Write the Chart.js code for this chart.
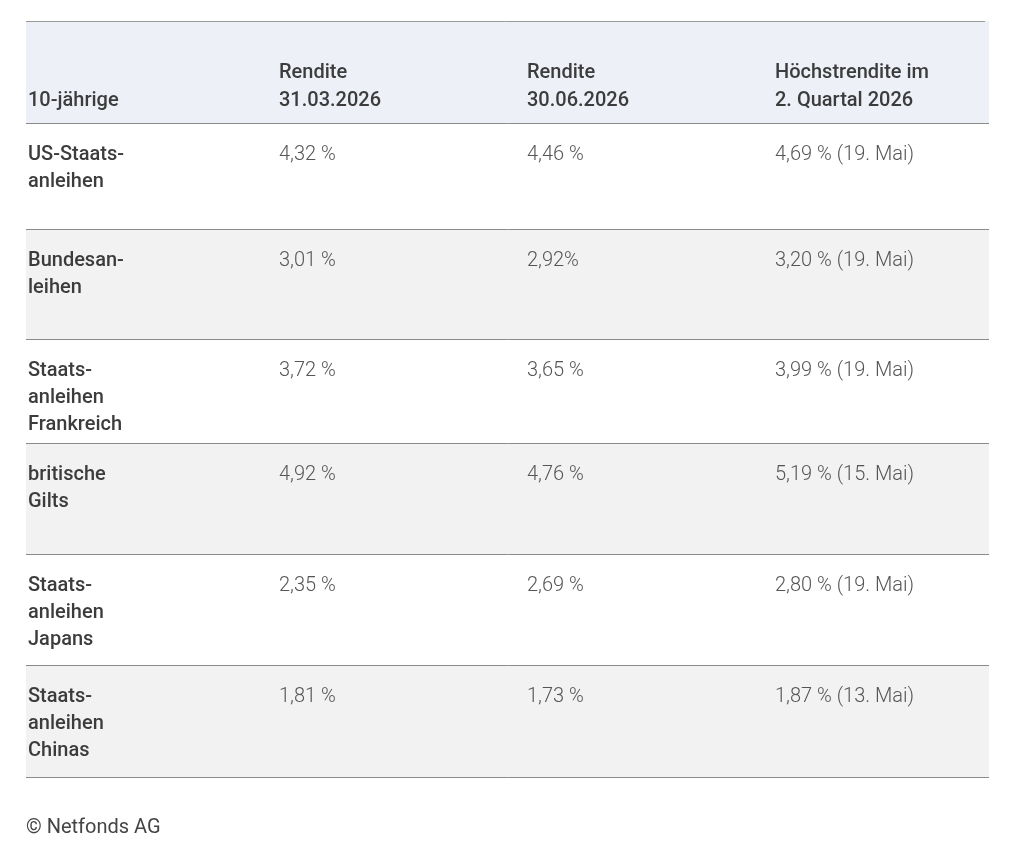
<!DOCTYPE html>
<html>
<head>
<meta charset="utf-8">
<script src="https://cdn.jsdelivr.net/npm/chart.js@4"></script>
<style>
  body { margin: 0; background: #fff; }
  canvas { display: block; }
</style>
</head>
<body>
<canvas id="chart-table" width="1017" height="846"></canvas>
<script>
// Tabellendaten
const HEADERS = [['10-jährige'], ['Rendite', '31.03.2026'], ['Rendite', '30.06.2026'], ['Höchstrendite im', '2. Quartal 2026']];
const ROW_NAMES = [
    ['US-Staats-', 'anleihen'],
    ['Bundesan-', 'leihen'],
    ['Staats-', 'anleihen', 'Frankreich'],
    ['britische', 'Gilts'],
    ['Staats-', 'anleihen', 'Japans'],
    ['Staats-', 'anleihen', 'Chinas'],
];
const YIELD_Q1 = ['4,32 %', '3,01 %', '3,72 %', '4,92 %', '2,35 %', '1,81 %'];
const YIELD_Q2 = ['4,46 %', '2,92%', '3,65 %', '4,76 %', '2,69 %', '1,73 %'];
const PEAK = ['4,69 % (19. Mai)', '3,20 % (19. Mai)', '3,99 % (19. Mai)', '5,19 % (15. Mai)', '2,80 % (19. Mai)', '1,87 % (13. Mai)'];
const SOURCE = '© Netfonds AG';

// Layout
const LEFT = 26, RIGHT = 989;
const COL_X = [28, 279, 527, 775];
const ROW_LINES = [123, 229, 339, 443, 554, 665, 777];
const LINE_H = 27;
const FONT = "Roboto, 'Open Sans', sans-serif";

const tablePlugin = {
    id: 'tablePlugin',
    afterDraw(chart) {
        const c = chart.ctx;
        c.save();
        // Kopfzeile
        c.fillStyle = '#eef0f8';
        c.fillRect(LEFT, 21, RIGHT - LEFT, ROW_LINES[0] - 21);
        c.strokeStyle = '#9a9a9a';
        c.lineWidth = 1;
        c.beginPath(); c.moveTo(LEFT, 21.5); c.lineTo(985, 21.5); c.stroke();

        // Zeilenhintergründe
        for (let i = 0; i < ROW_NAMES.length; i++) {
            if (i % 2 === 1) {
                c.fillStyle = '#f2f2f2';
                c.fillRect(LEFT, ROW_LINES[i] + 1, RIGHT - LEFT, ROW_LINES[i + 1] - ROW_LINES[i] - 1);
            }
        }
        c.strokeStyle = '#8a8a8a';
        ROW_LINES.forEach(y => {
            c.beginPath(); c.moveTo(LEFT, y + 0.5); c.lineTo(RIGHT, y + 0.5); c.stroke();
        });

        c.textBaseline = 'alphabetic';
        // Kopf
        c.fillStyle = '#3c3c3c';
        c.font = '500 20px ' + FONT;
        HEADERS.forEach((h, j) => {
            const start = 106 - (h.length - 1) * 28;
            h.forEach((t, k) => c.fillText(t, COL_X[j], start + k * 28));
        });

        // Zeilen
        ROW_NAMES.forEach((name, i) => {
            const top = ROW_LINES[i] + 37;
            c.fillStyle = '#3c3c3c';
            c.font = '500 20px ' + FONT;
            name.forEach((t, k) => c.fillText(t, COL_X[0], top + k * LINE_H));
            c.fillStyle = '#555';
            c.font = '300 20px ' + FONT;
            c.fillText(YIELD_Q1[i], COL_X[1], top);
            c.fillText(YIELD_Q2[i], COL_X[2], top);
            c.fillText(PEAK[i], COL_X[3], top);
        });

        c.fillStyle = '#444';
        c.font = '400 20px ' + FONT;
        c.fillText(SOURCE, 26, 833);
        c.restore();
    },
};

new Chart(document.getElementById('chart-table'), {
    type: 'bar',
    data: { labels: ROW_NAMES.map(n => n.join('')), datasets: [{ data: [] }] },
    options: {
        responsive: false,
        animation: false,
        plugins: { legend: { display: false }, tooltip: { enabled: false } },
        scales: { x: { display: false }, y: { display: false } },
    },
    plugins: [tablePlugin],
});
</script>
</body>
</html>
